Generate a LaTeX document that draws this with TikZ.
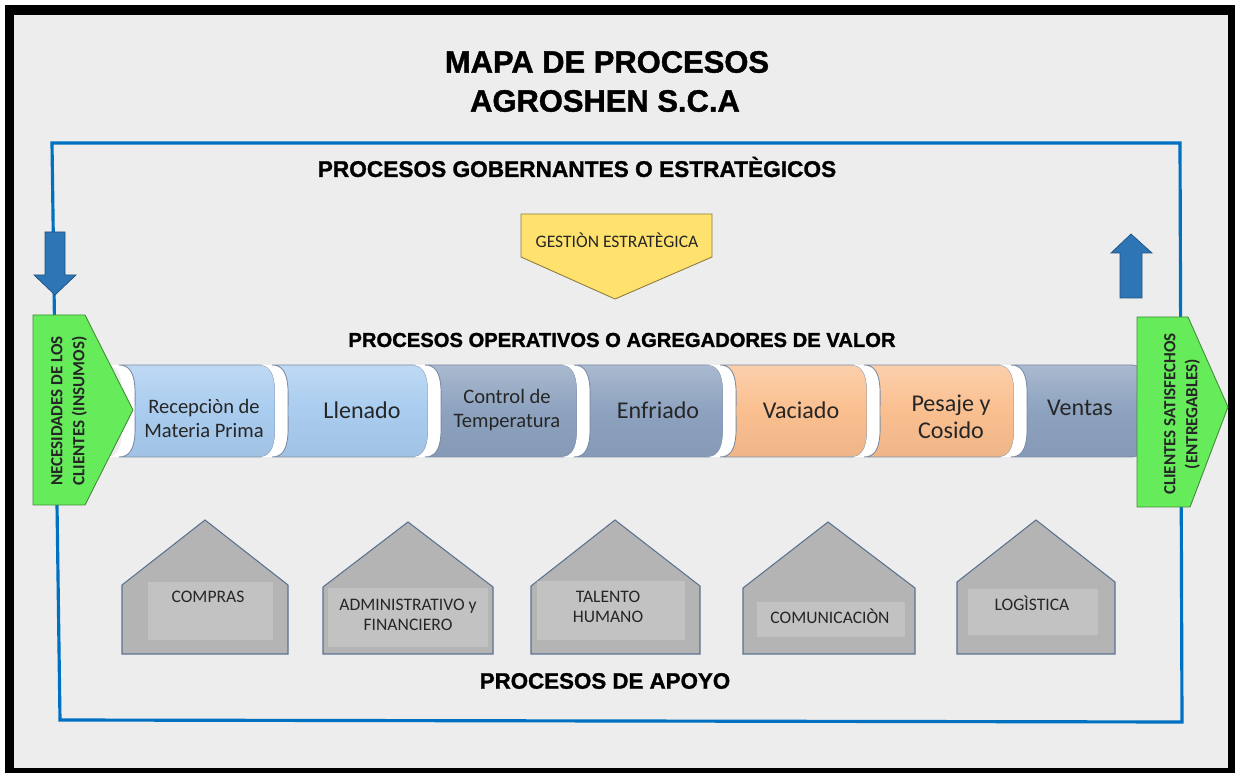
\documentclass[tikz,border=0pt]{standalone}
\usepackage{fontspec}
\setmainfont{Carlito}
\newfontfamily\headfont[BoldFeatures={FakeBold=1.3}]{Liberation Sans}

\definecolor{bggray}{HTML}{EDEDED}
\definecolor{frameblue}{HTML}{0070C0}
\definecolor{arrowblue}{HTML}{2E75B6}
\definecolor{leafgreen}{HTML}{66EB5A}
\definecolor{sunyellow}{HTML}{FFE26E}
\definecolor{segblue}{HTML}{A9CCEF}
\definecolor{segslate}{HTML}{8DA2BF}
\definecolor{segorange}{HTML}{FABF8F}
\definecolor{housegray}{HTML}{B4B4B4}
\definecolor{houseinner}{HTML}{C2C2C2}
\definecolor{edgeblue}{HTML}{5B7190}
\definecolor{textgray}{HTML}{262626}

\tikzset{
  head/.style={font=\headfont\bfseries\fontsize{#1}{#1}\selectfont},
  segtext/.style 2 args={text=textgray,align=center,font=\fontsize{#1}{#2}\selectfont},
  smalltext/.style={text=textgray,align=center,font=\fontsize{10}{11.5}\selectfont},
  greentext/.style={text=textgray,align=center,rotate=90,font=\bfseries\fontsize{9.7}{12.5}\selectfont},
  greenbox/.style={fill=leafgreen,draw=leafgreen!60!black,line width=0.5pt},
  yellowbox/.style={fill=sunyellow,draw=sunyellow!55!black,line width=0.5pt},
  bluearrow/.style={fill=arrowblue,draw=arrowblue!70!black,line width=0.4pt},
  housebox/.style={fill=housegray,draw=edgeblue,line width=0.6pt},
}

\begin{document}
\begin{tikzpicture}[x=0.02cm,y=-0.02cm]
  % page and frames
  \fill[white] (0,0) rectangle (1235,773);
  \fill[black] (5,5) rectangle (1235,773);
  \fill[bggray] (14,15) rectangle (1228,768);
  \draw[frameblue,line width=1.8pt] (52,143) -- (1180,143) -- (1182,722) -- (60,720) -- cycle;

  % titles
  \node[head=17.6] (title) at (607,62) {MAPA DE PROCESOS};
  \node[head=17.6] (company) at (605,101) {AGROSHEN S.C.A};
  \node[head=12.9] (strategic) at (577,167) {PROCESOS GOBERNANTES O ESTRAT\`EGICOS};
  \node[head=11.5] (operative) at (622,340) {PROCESOS OPERATIVOS O AGREGADORES DE VALOR};
  \node[head=12.7] (support) at (605,681) {PROCESOS DE APOYO};

  % strategic process
  \draw[yellowbox] (521,214) -- (712,214) -- (712,257) -- (615,299) -- (521,257) -- cycle;
  \node[smalltext] (gestion) at (617,240) {GESTI\`ON ESTRAT\`EGICA};

  % in / out arrows
  \draw[bluearrow] (45,232) -- (65,232) -- (65,275) -- (76,275) -- (55,295) -- (34,275) -- (45,275) -- cycle;
  \draw[bluearrow] (1120,298) -- (1142,298) -- (1142,253) -- (1152,253) -- (1131,234) -- (1111,253) -- (1120,253) -- cycle;

  % value chain
  \foreach \l/\r/\c in {119/275/segblue,272/428/segblue,425/577/segslate,574/723/segslate,720/867/segorange,864/1014/segorange,1011/1147/segslate}{
    \fill[white] (\l-13,365) to[out=0,in=90] (\l+3,411) to[out=-90,in=0] (\l-13,457) -- (\l,457)
      to[out=0,in=-90] (\l+16,411) to[out=90,in=0] (\l,365) -- cycle;
    \draw[top color=\c!75!white,bottom color=\c!95!black,middle color=\c,draw=edgeblue!80,line width=0.5pt]
      (\l,365) -- (\r-16,365) to[out=0,in=90] (\r,411)
      to[out=-90,in=0] (\r-16,457) -- (\l,457) to[out=0,in=-90] (\l+16,411) to[out=90,in=0] (\l,365) -- cycle;
  }
  \node[segtext={11.7}{13.7}] (reception) at (204,418) {Recepci\`on de\\Materia Prima};
  \node[segtext={13.7}{15.4}] (filling) at (362,410) {Llenado};
  \node[segtext={11.7}{13.7}] (control) at (507,410) {Control de\\Temperatura};
  \node[segtext={13.7}{15.4}] (cooling) at (658,410) {Enfriado};
  \node[segtext={13.7}{15.4}] (emptying) at (801,410) {Vaciado};
  \node[segtext={13.7}{15.4}] (weighing) at (951,417) {Pesaje y\\Cosido};
  \node[segtext={13.7}{15.4}] (sales) at (1080,408) {Ventas};

  % clients
  \draw[greenbox] (33,315) -- (85,315) -- (133,410) -- (85,505) -- (33,505) -- cycle;
  \node[greentext] (needs) at (69,411) {NECESIDADES DE LOS\\CLIENTES (INSUMOS)};
  \draw[greenbox] (1137,317) -- (1188,317) -- (1228,407) -- (1190,507) -- (1137,507) -- cycle;
  \node[greentext] (satisfied) at (1182,414) {CLIENTES SATISFECHOS\\(ENTREGABLES)};

  % support processes
  \foreach \l/\r/\ax/\ay/\e/\il/\ir/\it/\ib in {122/288/205/520/585/148/273/582/640,323/493/408/522/587/328/488/588/647,531/700/615/520/586/537/685/581/640,743/915/828/522/588/757/905/602/637,957/1115/1036/520/582/968/1098/589/635}{
    \draw[housebox] (\l,\e) -- (\ax,\ay) -- (\r,\e) -- (\r,654) -- (\l,654) -- cycle;
    \fill[houseinner] (\il,\it) rectangle (\ir,\ib);
  }
  \node[smalltext] (purchases) at (208,597) {COMPRAS};
  \node[smalltext] (admin) at (408,615) {ADMINISTRATIVO y\\FINANCIERO};
  \node[smalltext] (talent) at (608,607) {TALENTO\\HUMANO};
  \node[smalltext] (communication) at (830,616) {COMUNICACI\`ON};
  \node[smalltext] (logistics) at (1032,603) {LOG\`ISTICA};
\end{tikzpicture}
\end{document}
